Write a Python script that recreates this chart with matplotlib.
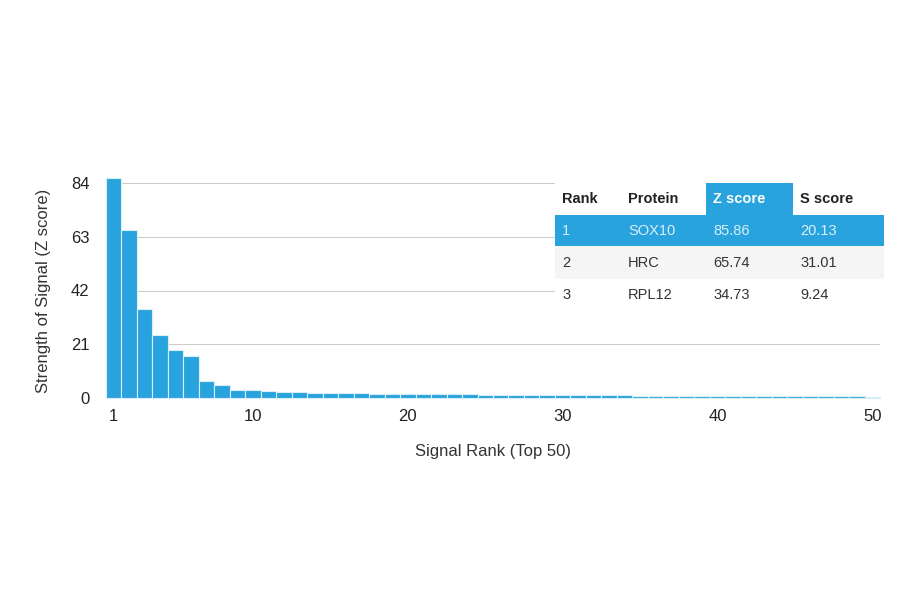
import matplotlib
matplotlib.use("Agg")
import matplotlib.pyplot as plt
from matplotlib.patches import Rectangle

plt.rcParams['font.family'] = ['Liberation Sans', 'DejaVu Sans']

ranks = list(range(1, 51))
zscores = [85.86, 65.74, 34.73, 24.5, 18.6, 16.6, 6.8, 5.0, 3.2, 3.0,
           2.6, 2.4, 2.2, 2.1, 2.0, 1.9, 1.8, 1.7, 1.65, 1.6,
           1.55, 1.5, 1.45, 1.4, 1.35, 1.3, 1.25, 1.2, 1.18, 1.15,
           1.1, 1.05, 1.0, 0.98, 0.95, 0.92, 0.9, 0.88, 0.85, 0.82,
           0.8, 0.78, 0.75, 0.72, 0.7, 0.68, 0.65, 0.62, 0.6, 0.58]
yticks = [0, 21, 42, 63, 84]
xticks = [1, 10, 20, 30, 40, 50]
col_headers = ["Rank", "Protein", "Z score", "S score"]
table_rows = [["1", "SOX10", "85.86", "20.13"],
              ["2", "HRC", "65.74", "31.01"],
              ["3", "RPL12", "34.73", "9.24"]]

W, H = 900, 594
fig = plt.figure(figsize=(9, 5.94), dpi=100)
ax = fig.add_axes([106/W, 1-398/H, (880-106)/W, (398-183)/H])
blue = "#29a3dd"
bars = ax.bar(ranks, zscores, width=1.0, color=blue, edgecolor="#d8eef8", linewidth=0.8, zorder=2)
for b in bars:
    b.set_clip_on(False)
ax.set_xlim(0.5, 50.5)
ax.set_ylim(0, 84)
ax.set_yticks(yticks)
ax.set_xticks(xticks)
ax.yaxis.grid(True, color="#cccccc", linewidth=0.8, zorder=0)
for s in ax.spines.values():
    s.set_visible(False)
ax.tick_params(length=0, labelsize=12, colors="#222222")
ax.tick_params(axis="y", pad=12)
ax.tick_params(axis="x", pad=8)
ax.set_xlabel("Signal Rank (Top 50)", fontsize=12, color="#333333", labelpad=14)
ax.set_ylabel("Strength of Signal (Z score)", fontsize=12, color="#333333", labelpad=14)

def px(x, y, w, h, color):
    fig.patches.append(Rectangle((x/W, 1-(y+h)/H), w/W, h/H, transform=fig.transFigure,
                                 facecolor=color, edgecolor="none", zorder=5))
px(555, 183, 329, 32, "white")
px(706, 183, 87, 32, blue)
px(555, 215, 329, 31, blue)
px(555, 246, 329, 33, "#f5f5f5")
px(555, 279, 329, 31, "white")
colx = [562, 628, 713, 800]
rowy = [199, 231, 263, 295]
for j, h in enumerate(col_headers):
    fig.text(colx[j]/W, 1-rowy[0]/H, h, fontsize=10.5, fontweight="bold", va="center",
             color="white" if j == 2 else "#222222", zorder=6)
for i, row in enumerate(table_rows):
    for j, v in enumerate(row):
        fig.text(colx[j]/W, 1-rowy[i+1]/H, v, fontsize=10.5, va="center",
                 color="#d8f0fb" if i == 0 else "#333333", zorder=6)
fig.savefig("out.png", dpi=100)
